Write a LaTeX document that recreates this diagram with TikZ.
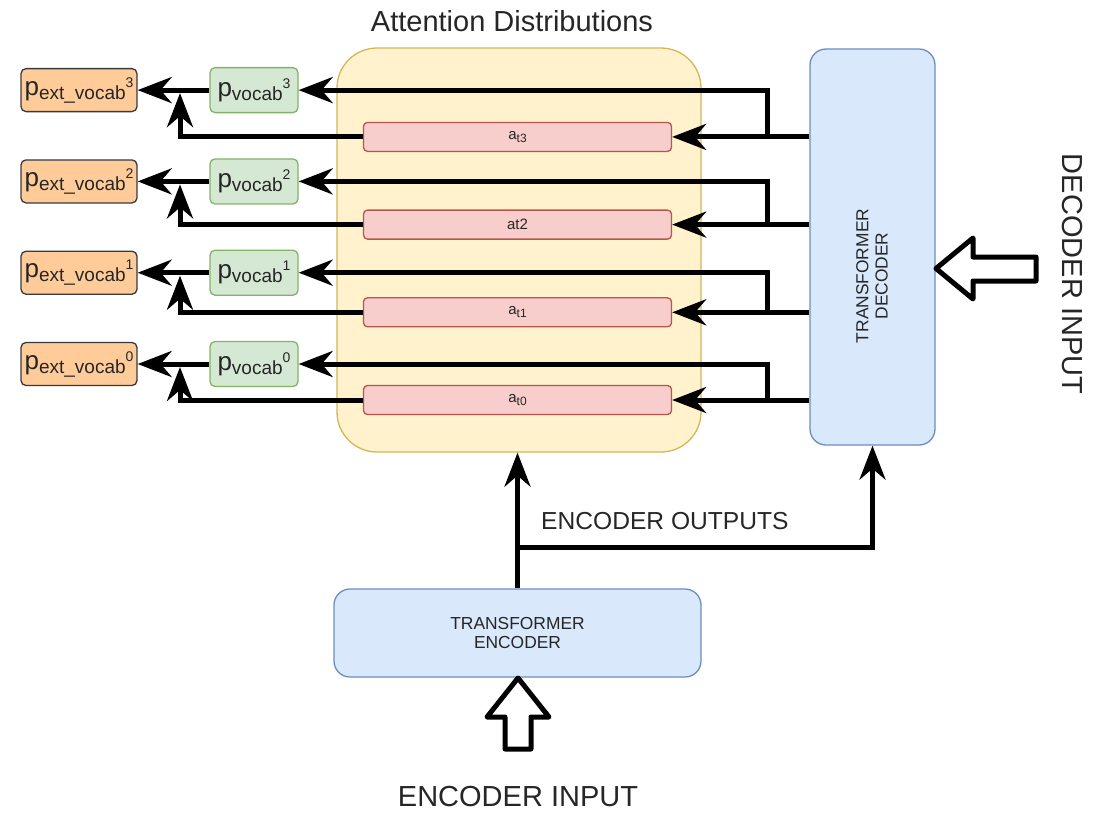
\documentclass[tikz,border=0pt]{standalone}
\usepackage{fontspec}
\setmainfont{Liberation Sans}
\usetikzlibrary{arrows.meta}

\definecolor{attfill}{HTML}{FFF2CC}
\definecolor{attline}{HTML}{D6B656}
\definecolor{redfill}{HTML}{F8CECC}
\definecolor{redline}{HTML}{B85450}
\definecolor{greenfill}{HTML}{D5E8D4}
\definecolor{greenline}{HTML}{82B366}
\definecolor{orangefill}{HTML}{FFCC99}
\definecolor{orangeline}{HTML}{36393D}
\definecolor{bluefill}{HTML}{DAE8FC}
\definecolor{blueline}{HTML}{6C8EBF}
\definecolor{txt}{HTML}{262626}

\newcommand{\fs}[1]{\fontsize{#1}{#1}\selectfont}
\newcommand{\pname}[2]{\fs{26}p\raisebox{-4pt}{\fs{19}#1}\raisebox{8pt}{\fs{14}#2}}
\newcommand{\att}[1]{a\raisebox{-3pt}{\fs{12}#1}}

\begin{document}
\begin{tikzpicture}[x=1pt,y=-1pt,
  arr/.style={line width=5pt,-{Stealth[length=34pt,width=26pt,inset=11pt]}},
  hollow/.style={line width=5pt,line join=round,fill=white},
  attbar/.style={draw=redline,fill=redfill,line width=1.3pt,rounded corners=4pt,
    minimum width=308,minimum height=29,inner sep=0pt,font=\fs{15},text=txt},
  vocabbox/.style={draw=greenline,fill=greenfill,line width=1.3pt,rounded corners=5pt,
    minimum width=88,minimum height=45,inner sep=0pt,text=txt},
  extbox/.style={draw=orangeline,fill=orangefill,line width=1.3pt,rounded corners=5pt,
    minimum width=116,minimum height=43,inner sep=0pt,text=txt},
  blockbox/.style={draw=blueline,fill=bluefill,line width=1.3pt,rounded corners=16pt,inner sep=0pt},
  small/.style={font=\fs{17.4},align=center,text=txt,inner sep=0pt},
  big/.style={font=\fs{29},text=txt,inner sep=0pt}]
  \useasboundingbox (0,0) rectangle (1101,815);

  % attention distributions
  \node[draw=attline,fill=attfill,line width=1.3pt,rounded corners=40pt,
    minimum width=364,minimum height=404] (att) at (519,250) {};
  \node[big] (title) at (512,21) {Attention Distributions};

  % decoder and encoder
  \node[blockbox,minimum width=125,minimum height=396] (dec) at (872.5,247) {};
  \node[small,rotate=90] (declab) at (872,276) {TRANSFORMER\\[2pt]DECODER};
  \node[blockbox,minimum width=367,minimum height=88] (enc) at (517.5,633) {};
  \node[small] (enclab) at (enc.center) {TRANSFORMER\\[2pt]ENCODER};

  \foreach \i/\lab in {0/{\att{t0}},1/{\att{t1}},2/{at2},3/{\att{t3}}} {
    \pgfmathsetmacro{\ylow}{400-87.7*\i}
    \pgfmathsetmacro{\yup}{364-91.3*\i}
    \pgfmathsetmacro{\ytip}{\yup+3}
    \node[attbar] (a\i) at (517.5,\ylow) {\lab};
    \node[vocabbox] (pv\i) at (254,\yup) {\pname{vocab}{\i}};
    \node[extbox] (pe\i) at (79,\yup) {\pname{ext\_vocab}{\i}};
    \coordinate (br\i) at (767,\ylow);
    \coordinate (up\i) at (180,\ytip);
    \draw[arr] (dec.west |- a\i) -- (a\i.east);
    \draw[arr] (br\i) |- (pv\i.east);
    \draw[arr] (pv\i) -- (pe\i);
    \draw[arr] (a\i.west) -| (up\i);
  }

  % encoder outputs
  \coordinate (split) at (517.5,547);
  \draw[arr] (enc.north) -- (enc.north |- att.south);
  \draw[arr] (split) -| (dec.south);
  \node[font=\fs{24.6},text=txt,inner sep=0pt,anchor=base west] (outlab) at (541,529) {ENCODER OUTPUTS};

  % inputs
  \draw[hollow] (518,678) -- (549,717) -- (531,717) -- (531,749) -- (505,749) -- (505,717) -- (487,717) -- cycle;
  \node[big] (inlab) at (518,797) {ENCODER INPUT};
  \draw[hollow] (936,268.5) -- (973,238) -- (973,257) -- (1036,257) -- (1036,281) -- (973,281) -- (973,299) -- cycle;
  \node[big,rotate=-90] (decin) at (1072,274) {DECODER INPUT};
\end{tikzpicture}
\end{document}
